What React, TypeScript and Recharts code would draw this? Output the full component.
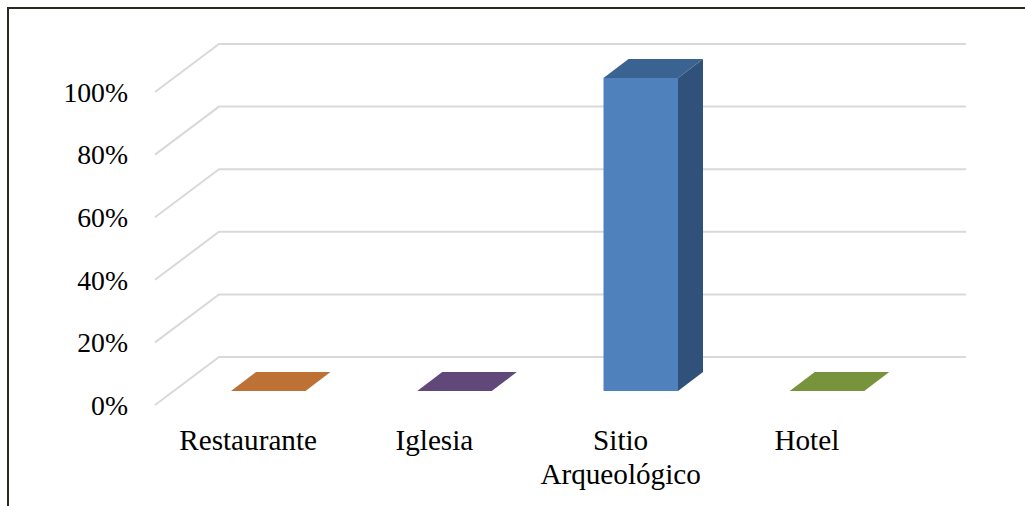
import React from "react";
import { BarChart, Bar, CartesianGrid, XAxis, YAxis } from "recharts";

const categories = ["Restaurante", "Iglesia", "Sitio Arqueológico", "Hotel"];
const values = [0, 0, 100, 0];
const yTicks = [0, 20, 40, 60, 80, 100];

// front, top, side faces of each column
const FACE_COLORS = [
  ["#E46C0A", "#BD7135", "#98531B"],
  ["#8064A2", "#60497A", "#4D3A62"],
  ["#4F81BD", "#3B6391", "#30527A"],
  ["#9BBB59", "#77933C", "#5F7730"],
];

const FONT = "'Liberation Serif', 'Times New Roman', serif";
const GRID_COLOR = "#D9D9D9";

// fake 3D: the floor goes back from the axis to the wall
const WALL_DX = 64;
const WALL_DY = -48;
const WALL_RIGHT = 966;
// columns stand a bit inside the floor
const BAR_DX = 20;
const BAR_DY = -14;
const BAR_DEPTH_X = 25;
const BAR_DEPTH_Y = -19;

const chartData = categories.map((name, i) => ({ name, value: values[i] }));

function GridLine(props: any) {
  const { x1, y1 } = props;
  const bx = x1 + WALL_DX;
  const by = y1 + WALL_DY;
  return (
    <polyline
      key={props.key ?? y1}
      points={`${x1},${y1} ${bx},${by} ${WALL_RIGHT},${by}`}
      fill="none"
      stroke={GRID_COLOR}
      strokeWidth={2}
    />
  );
}

function Column(props: any) {
  const { x, y, width, height, index } = props;
  const [front, top, side] = FACE_COLORS[index];
  const l = x + BAR_DX;
  const r = l + width;
  const t = y + BAR_DY;
  const b = t + height;
  const dx = BAR_DEPTH_X;
  const dy = BAR_DEPTH_Y;
  return (
    <g>
      {height > 0 && <rect x={l} y={t} width={width} height={height} fill={front} />}
      {height > 0 && (
        <polygon
          points={`${r},${t} ${r + dx},${t + dy} ${r + dx},${b + dy} ${r},${b}`}
          fill={side}
        />
      )}
      <polygon
        points={`${l},${t} ${l + dx},${t + dy} ${r + dx},${t + dy} ${r},${t}`}
        fill={top}
      />
    </g>
  );
}

function CategoryTick(props: any) {
  const { x, payload } = props;
  const words = payload.value === "Sitio Arqueológico" ? ["Sitio", "Arqueológico"] : [payload.value];
  return (
    <text textAnchor="middle" fontFamily={FONT} fontSize={29.2} fill="#000">
      {words.map((w: string, i: number) => (
        <tspan key={w} x={x} y={450 + i * 34}>
          {w}
        </tspan>
      ))}
    </text>
  );
}

export default function App() {
  return (
    <div style={{ position: "absolute", left: 0, top: 0, width: 1025, height: 506, overflow: "hidden", background: "#fff" }}>
      <div
        style={{
          position: "absolute",
          left: 7,
          top: 7,
          right: 0,
          bottom: 0,
          borderTop: "2px solid #2B2A20",
          borderLeft: "2px solid #2B2A20",
        }}
      />
      <div style={{ position: "absolute", left: 0, top: 0 }}>
        <BarChart
          width={1025}
          height={506}
          data={chartData}
          margin={{ top: 92, right: 125, bottom: 0, left: 0 }}
          barSize={74.5}
        >
          <CartesianGrid vertical={false} horizontal={GridLine as any} />
          <XAxis
            dataKey="name"
            interval={0}
            height={101}
            axisLine={false}
            tickLine={false}
            tick={<CategoryTick />}
          />
          <YAxis
            width={155}
            domain={[0, 100]}
            ticks={yTicks}
            interval={0}
            axisLine={false}
            tickLine={false}
            tickSize={0}
            tickMargin={27}
            tickFormatter={(v) => `${v}%`}
            tick={{ fontFamily: FONT, fontSize: 27.7, fill: "#000" }}
          />
          <Bar dataKey="value" isAnimationActive={false} shape={<Column />} />
        </BarChart>
      </div>
    </div>
  );
}
